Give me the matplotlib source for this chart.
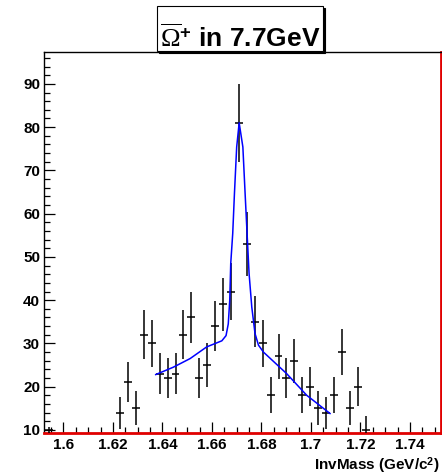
import matplotlib
matplotlib.use('Agg')
import matplotlib.pyplot as plt
from matplotlib.patches import Rectangle
from matplotlib.ticker import FixedLocator, MultipleLocator
from matplotlib import font_manager

plt.rcParams['font.family'] = ['Liberation Sans', 'DejaVu Sans']
plt.rcParams['mathtext.fontset'] = 'custom'
plt.rcParams['mathtext.rm'] = 'Liberation Serif'
plt.rcParams['mathtext.it'] = 'Liberation Serif:italic'
plt.rcParams['mathtext.bf'] = 'Liberation Sans:bold'

names = sorted({f.name for f in font_manager.fontManager.ttflist})
narrow = 'Liberation Sans Narrow' if 'Liberation Sans Narrow' in names else 'Liberation Sans'

# ---- data ----
bin_centers = [1.5941, 1.6229, 1.6261, 1.6293, 1.6325, 1.6357, 1.6389, 1.6421,
               1.6453, 1.6485, 1.6517, 1.6549, 1.6581, 1.6613, 1.6645, 1.6677,
               1.6709, 1.6741, 1.6773, 1.6805, 1.6837, 1.6869, 1.6901, 1.6933,
               1.6965, 1.6997, 1.7029, 1.7061, 1.7093, 1.7125, 1.7157, 1.7189,
               1.7221]
counts = [9.9, 14, 21, 15, 32, 30, 23, 22,
          23, 32, 36, 22, 25, 34, 39, 42,
          81, 53, 35, 30, 18, 27, 22, 26,
          18, 20, 15, 14, 18, 28, 15, 20,
          10]
count_errors = [0.8, 3.7, 4.6, 3.9, 5.7, 5.5, 4.8, 4.7,
                4.8, 5.7, 6.0, 4.7, 5.0, 5.8, 6.2, 6.5,
                9.0, 7.3, 5.9, 5.5, 4.2, 5.2, 4.7, 5.1,
                4.2, 4.5, 3.9, 3.7, 4.2, 5.3, 3.9, 4.5,
                3.2]
bin_half_width = 0.0016

fit_x = [1.6373, 1.6444, 1.6512, 1.6579, 1.6640, 1.6657, 1.6666, 1.6672,
         1.6676, 1.6684, 1.6691, 1.6700, 1.6710, 1.6725, 1.6734, 1.6742,
         1.6750, 1.6761, 1.6774, 1.6788, 1.6808, 1.6902, 1.6983, 1.7077]
fit_y = [22.8, 24.5, 26.5, 29.2, 30.6, 31.8, 34.5, 40.0,
         48.5, 55.4, 64.7, 75.4, 81.0, 75.4, 64.7, 55.4,
         46.2, 38.4, 32.3, 29.6, 28.0, 23.0, 18.0, 13.8]

x_ticks = [1.60, 1.62, 1.64, 1.66, 1.68, 1.70, 1.72, 1.74]
x_tick_labels = ['1.6', '1.62', '1.64', '1.66', '1.68', '1.7', '1.72', '1.74']
y_ticks = [10, 20, 30, 40, 50, 60, 70, 80, 90]
y_tick_labels = ['10', '20', '30', '40', '50', '60', '70', '80', '90']

title_text = r'$\overline{\Omega}^{\mathbf{+}}$ in 7.7GeV'
x_label = r'InvMass (GeV/c$^{\mathbf{2}}$)'

# ---- figure ----
W, H = 442, 475
fig = plt.figure(figsize=(W / 100, H / 100), dpi=100)
fig.patch.set_facecolor('white')

ax_l, ax_r, ax_t, ax_b = 44.3, 440.7, 52.3, 432.7
ax = fig.add_axes([ax_l / W, (H - ax_b) / H, (ax_r - ax_l) / W, (ax_b - ax_t) / H])

ax.errorbar(bin_centers, counts, xerr=bin_half_width, yerr=count_errors,
            fmt='none', ecolor='black', elinewidth=1.1, capsize=0, zorder=3)
ax.plot(fit_x, fit_y, color='#0000ff', lw=1.1, zorder=4)

ax.set_xlim(1.5923, 1.7524)
ax.set_ylim(9.36, 97.3)

ax.xaxis.set_major_locator(FixedLocator(x_ticks))
ax.set_xticklabels(x_tick_labels)
ax.xaxis.set_minor_locator(MultipleLocator(0.005))
ax.yaxis.set_major_locator(FixedLocator(y_ticks))
ax.set_yticklabels(y_tick_labels)
ax.yaxis.set_minor_locator(MultipleLocator(2))

ax.tick_params(which='both', direction='in', top=False, right=False, width=0.9, color='black')
ax.tick_params(which='major', length=8)
ax.tick_params(which='minor', length=4.3)
ax.tick_params(axis='y', which='major', pad=3)
ax.tick_params(axis='x', which='major', pad=4)
for lab in ax.get_xticklabels() + ax.get_yticklabels():
    lab.set_fontsize(11)
    lab.set_fontweight('bold')

ax.spines['left'].set_color('black')
ax.spines['left'].set_linewidth(1.0)
ax.spines['top'].set_color('black')
ax.spines['top'].set_linewidth(1.0)
ax.spines['right'].set_color('#e00000')
ax.spines['right'].set_linewidth(2.0)
ax.spines['bottom'].set_color('#e00000')
ax.spines['bottom'].set_linewidth(2.0)

fig.text(440 / W, (H - 466) / H, x_label, ha='right', va='center',
         fontsize=11, fontweight='bold')

# title box with shadow
bx0, bx1, by0, by1 = 156.7, 323.3, 6.0, 50.7
shadow = Rectangle(((bx0 + 2.0) / W, (H - by1 - 2.0) / H), (bx1 - bx0) / W, (by1 - by0) / H,
                   transform=fig.transFigure, facecolor='black', edgecolor='black', lw=0.8, zorder=5)
box = Rectangle((bx0 / W, (H - by1) / H), (bx1 - bx0) / W, (by1 - by0) / H,
                transform=fig.transFigure, facecolor='white', edgecolor='black', lw=0.8, zorder=6)
fig.add_artist(shadow)
fig.add_artist(box)
title_size = 24 if narrow != 'Liberation Sans' else 19
fig.text(240 / W, (H - 46.5) / H, title_text, ha='center', va='baseline',
         fontsize=title_size, fontweight='bold', family=[narrow, 'DejaVu Sans'], zorder=7)

fig.savefig('out.png', dpi=100)
